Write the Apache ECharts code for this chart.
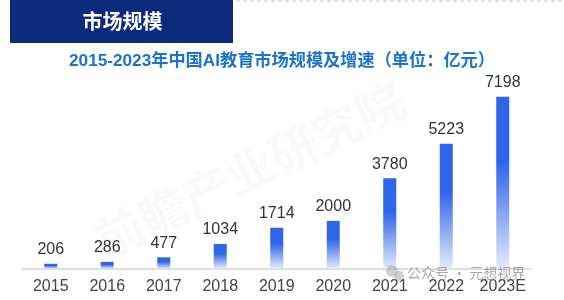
<!DOCTYPE html>
<html>
<head>
<meta charset="utf-8">
<script src="https://cdn.jsdelivr.net/npm/echarts@6/dist/echarts.min.js"></script>
<style>html,body{margin:0;padding:0;background:#fff;}#c{width:564px;height:300px;}</style>
</head>
<body>
<div id="c"></div>
<script>
const categories = ['2015','2016','2017','2018','2019','2020','2021','2022','2023E'];
const marketSize = [206, 286, 477, 1034, 1714, 2000, 3780, 5223, 7198];
const headerText = '市场规模';
const titleText = '2015-2023年中国AI教育市场规模及增速（单位：亿元）';
const sourceText = '公众号 · 元想视界';

const chart = echarts.init(document.getElementById('c'), null, {renderer: 'canvas'});
const FONT = '"Liberation Sans", Arial, "Noto Sans CJK SC", sans-serif';
chart.setOption({
  backgroundColor: '#ffffff',
  animation: false,
  title: {
    text: titleText,
    left: 'center',
    top: 47.5,
    textStyle: {fontFamily: FONT, fontSize: 17.2, fontWeight: 'bold', color: '#1a73cc'}
  },
  grid: {left: 22.5, right: 33, top: 77.5, bottom: 31.3},
  xAxis: {
    type: 'category',
    data: categories,
    axisLine: {lineStyle: {color: '#d3d3d3', width: 1.5}},
    axisTick: {show: false},
    axisLabel: {interval: 0, fontFamily: FONT, fontSize: 16, color: '#444', margin: 10}
  },
  yAxis: {type: 'value', min: 0, max: 8000, show: false, splitLine: {show: false}},
  series: [{
    type: 'bar',
    data: marketSize,
    barWidth: 13,
    itemStyle: {
      color: new echarts.graphic.LinearGradient(0, 0, 0, 1, [
        {offset: 0, color: '#2f65e9'},
        {offset: 0.38, color: '#2f65e9'},
        {offset: 1, color: '#e4ebfc'}
      ])
    },
    label: {show: true, position: 'top', distance: 6, fontFamily: FONT, fontSize: 16, color: '#333'}
  }],
  graphic: [
    {type: 'rect', shape: {x: 10, y: 0, width: 223, height: 43}, style: {fill: '#0e2a7c'}, z: 10},
    {type: 'text', x: 122.5, y: 21.5, style: {text: headerText, fontFamily: '"Noto Sans CJK SC", sans-serif', fontSize: 20, fontWeight: 'bold', fill: '#ffffff', align: 'center', verticalAlign: 'middle'}, z: 11},
    {type: 'line', shape: {x1: 236, y1: 1, x2: 564, y2: 1}, style: {stroke: '#b9c4de', lineWidth: 1, lineDash: [4, 3]}, z: 10},
    {type: 'text', x: 250, y: 170, rotation: Math.PI / 7, style: {text: '前瞻产业研究院', fontFamily: '"Noto Sans CJK SC", sans-serif', fontSize: 48, fontWeight: 'bold', fill: 'rgba(0,0,0,0.022)', align: 'center', verticalAlign: 'middle'}, z: 0},
    {type: 'circle', shape: {cx: 392, cy: 271, r: 6}, style: {fill: 'rgba(150,150,150,0.45)'}, z: 12},
    {type: 'circle', shape: {cx: 399, cy: 276, r: 5}, style: {fill: 'rgba(150,150,150,0.45)'}, z: 12},
    {type: 'text', x: 407, y: 273, style: {text: sourceText, fontFamily: '"Noto Sans CJK SC", sans-serif', fontSize: 14, fill: 'rgba(140,140,140,0.75)', align: 'left', verticalAlign: 'middle'}, z: 12}
  ]
});
</script>
</body>
</html>
